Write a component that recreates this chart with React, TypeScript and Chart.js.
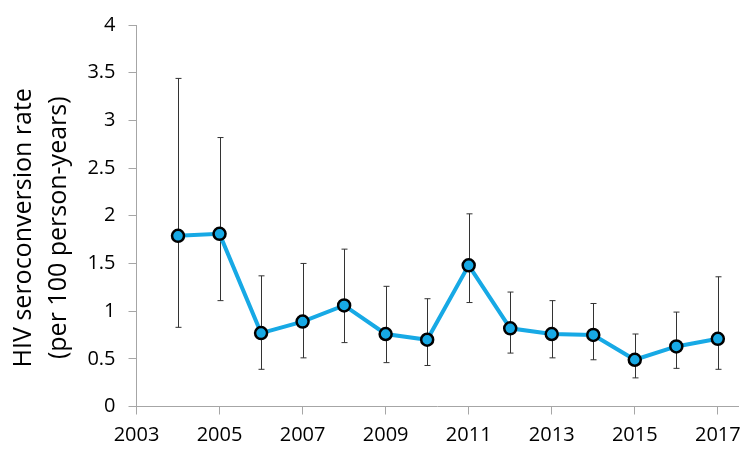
import { Chart, registerables } from 'chart.js';
import { useRef, useEffect } from 'react';

Chart.register(...registerables);

const years = [2004, 2005, 2006, 2007, 2008, 2009, 2010, 2011, 2012, 2013, 2014, 2015, 2016, 2017];
const rates = [1.79, 1.81, 0.77, 0.89, 1.06, 0.76, 0.70, 1.48, 0.82, 0.76, 0.75, 0.49, 0.63, 0.71];
const lowerCI = [0.83, 1.11, 0.39, 0.51, 0.67, 0.46, 0.43, 1.09, 0.56, 0.51, 0.49, 0.30, 0.40, 0.39];
const upperCI = [3.44, 2.82, 1.37, 1.50, 1.65, 1.26, 1.13, 2.02, 1.20, 1.11, 1.08, 0.76, 0.99, 1.36];
const xTicks = [2003, 2005, 2007, 2009, 2011, 2013, 2015, 2017];
const yTicks = [0, 0.5, 1, 1.5, 2, 2.5, 3, 3.5, 4];
const titleLines = ['HIV seroconversion rate', '(per 100 person-years)'];

const BLUE = '#17a9e5';
const AXIS = '#a6a6a6';
const FONT = '"Open Sans", sans-serif';

// whiskers with small caps, drawn under the points
const errorBars = {
  id: 'errorBars',
  beforeDatasetsDraw(chart: Chart) {
    const { ctx, scales } = chart;
    const x = scales.x;
    const y = scales.y;
    ctx.save();
    ctx.strokeStyle = '#333';
    ctx.lineWidth = 1;
    years.forEach((yr, i) => {
      const px = Math.round(x.getPixelForValue(yr)) + 0.5;
      const top = y.getPixelForValue(upperCI[i]);
      const bot = y.getPixelForValue(lowerCI[i]);
      ctx.beginPath();
      ctx.moveTo(px, top);
      ctx.lineTo(px, bot);
      ctx.moveTo(px - 3, top);
      ctx.lineTo(px + 3, top);
      ctx.moveTo(px - 3, bot);
      ctx.lineTo(px + 3, bot);
      ctx.stroke();
    });
    ctx.restore();
  },
};

// two-line rotated y title, centred a little below the axis middle like the original
const yTitle = {
  id: 'yTitle',
  afterDraw(chart: Chart) {
    const { ctx, chartArea } = chart;
    const cy = (chartArea.top + chartArea.bottom) / 2 + 12;
    ctx.save();
    ctx.fillStyle = '#000';
    ctx.font = `25px ${FONT}`;
    ctx.textAlign = 'center';
    ctx.textBaseline = 'middle';
    titleLines.forEach((line, i) => {
      ctx.save();
      ctx.translate(24 + i * 35, cy);
      ctx.rotate(-Math.PI / 2);
      ctx.fillText(line, 0, 0);
      ctx.restore();
    });
    ctx.restore();
  },
};

const App = () => {
  const ref = useRef<HTMLCanvasElement>(null);
  const chart = useRef<Chart>();

  useEffect(() => {
    if (ref.current) {
      chart.current = new Chart(ref.current, {
        type: 'line',
        data: {
          datasets: [
            {
              data: years.map((yr, i) => ({ x: yr, y: rates[i] })),
              borderColor: BLUE,
              borderWidth: 4,
              backgroundColor: BLUE,
              pointBackgroundColor: BLUE,
              pointBorderColor: '#000',
              pointBorderWidth: 2.5,
              pointRadius: 6,
              tension: 0,
            },
          ],
        },
        options: {
          animation: false,
          responsive: false,
          layout: { padding: { top: 23, right: 7, left: 0, bottom: 0 } },
          plugins: {
            legend: { display: false },
            tooltip: { enabled: false },
          },
          scales: {
            x: {
              type: 'linear',
              min: 2003,
              max: 2017.5,
              afterBuildTicks: (scale: any) => {
                scale.ticks = xTicks.map((v) => ({ value: v }));
              },
              afterFit: (scale: any) => {
                scale.height = 57.5;
              },
              grid: { drawOnChartArea: false, drawTicks: true, tickLength: 8, color: AXIS },
              border: { color: AXIS, width: 1 },
              ticks: {
                padding: 9,
                color: '#000',
                font: { family: FONT, size: 20 },
                maxRotation: 0,
                callback: (v: any) => String(v),
              },
            },
            y: {
              min: 0,
              max: 4,
              afterBuildTicks: (scale: any) => {
                scale.ticks = yTicks.map((v) => ({ value: v }));
              },
              afterFit: (scale: any) => {
                scale.width = 136.5;
              },
              grid: { drawOnChartArea: false, drawTicks: true, tickLength: 8, color: AXIS },
              border: { color: AXIS, width: 1 },
              ticks: {
                padding: 13,
                color: '#000',
                font: { family: FONT, size: 20 },
                callback: (v: any) => String(v),
              },
            },
          },
        },
        plugins: [errorBars, yTitle],
      });
    }

    return () => {
      if (chart.current) {
        chart.current.destroy();
      }
    };
  }, []);

  return (
    <div style={{ position: 'absolute', left: 0, top: 0, width: 750, height: 464, background: '#fff' }}>
      <canvas ref={ref} width={750} height={464}></canvas>
    </div>
  );
};

export default App;
